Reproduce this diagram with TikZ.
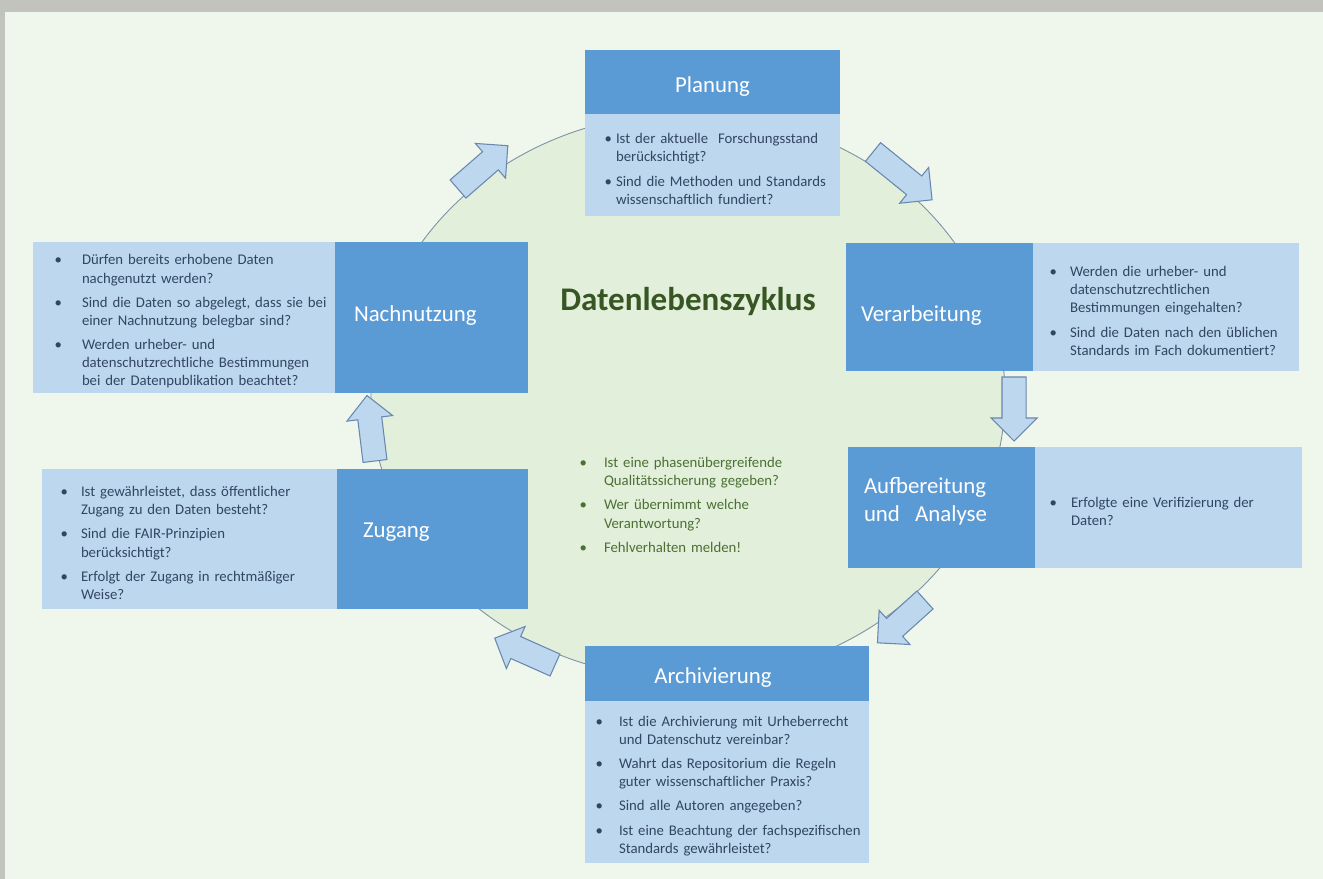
\documentclass[tikz,border=0pt]{standalone}
\usepackage{fontspec}
\setmainfont{Carlito}
\usetikzlibrary{shapes.geometric, shapes.arrows, positioning}
\definecolor{frame_gray}{RGB}{195,195,190}
\definecolor{page_green}{RGB}{239,246,236}
\definecolor{cycle_green}{RGB}{226,239,218}
\definecolor{cycle_line}{RGB}{125,145,165}
\definecolor{head_blue}{RGB}{91,155,213}
\definecolor{box_blue}{RGB}{189,215,238}
\definecolor{arrow_line}{RGB}{105,135,175}
\definecolor{text_blue}{RGB}{50,70,98}
\definecolor{title_green}{RGB}{55,86,35}
\definecolor{note_green}{RGB}{75,112,52}

\newlength\pix
\setlength\pix{0.02cm}
% bullet list: text indent, gap bullet-text (in px)
\newenvironment{punkte}[2]{\begin{list}{\textbullet}{%
  \setlength\leftmargin{#1\pix}\setlength\labelsep{#2\pix}%
  \settowidth\labelwidth{\textbullet}\setlength\rightmargin{-30\pix}%
  \setlength\itemsep{3.5pt}\setlength\parsep{0pt}%
  \setlength\topsep{0pt}\setlength\partopsep{0pt}}}{\end{list}}
% shift a label up or down without changing its size
\newcommand\hebe[2]{\raisebox{#1\pix}[\height][\depth]{#2}}

\begin{document}
\begin{tikzpicture}[x=0.02cm, y=-0.02cm,
  every node/.style={inner sep=0pt, outer sep=0pt},
  head/.style={fill=head_blue, text=white, font=\fontsize{13}{16}\selectfont},
  askbox/.style={fill=box_blue, text=text_blue, font=\fontsize{8.4}{10.3}\selectfont, align=left},
  blockarrow/.style={single arrow, draw=arrow_line, line width=0.6pt, fill=box_blue,
    minimum width=45\pix, single arrow head extend=11\pix, inner ysep=11.5\pix, inner xsep=0pt, anchor=tail}]
  \fill[frame_gray] (0,0) rectangle (1323,879);
  \fill[page_green] (5,12) rectangle (1323,879);
  \useasboundingbox (0,0) rectangle (1323,879);

  \node[ellipse, draw=cycle_line, line width=0.5pt, fill=cycle_green,
    minimum width=634\pix, minimum height=566\pix] (zyklus) at (688,396) {};

  % arrows round the cycle
  \node[blockarrow, rotate=41, minimum height=66\pix] (toPlan) at (458,189) {};
  \node[blockarrow, rotate=-39, minimum height=76\pix] (toVerarb) at (873,152) {};
  \node[blockarrow, rotate=-90, minimum height=64\pix] (toAufb) at (1014,377) {};
  \node[blockarrow, rotate=-138, minimum height=64\pix] (toArchiv) at (925,600) {};
  \node[blockarrow, rotate=156, minimum height=66\pix] (toZugang) at (555,665) {};
  \node[blockarrow, rotate=97, minimum height=66\pix] (toNach) at (375,461) {};

  \node[head, anchor=north west, minimum width=255\pix, minimum height=64\pix] (planung) at (585,50) {\hebe{-5}{Planung}};
  \node[askbox, text width=255\pix, minimum height=102\pix, below=0pt of planung] (planungQ) {%
    \begin{punkte}{31}{4}
      \item Ist der aktuelle~ Forschungsstand\\ berücksichtigt?
      \item Sind die Methoden und Standards\\ wissenschaftlich fundiert?
    \end{punkte}};

  \node[head, anchor=north west, text width=157\pix, inner xsep=15\pix, minimum height=128\pix, align=left] (verarb) at (846,243) {\hebe{-9}{Verarbeitung}};
  \node[askbox, text width=266\pix, minimum height=128\pix, right=0pt of verarb] (verarbQ) {%
    \begin{punkte}{37}{13}
      \item Werden die urheber- und\\ datenschutzrechtlichen\\ Bestimmungen eingehalten?
      \item Sind die Daten nach den üblichen\\ Standards im Fach dokumentiert?
    \end{punkte}};

  \node[head, anchor=north west, text width=155\pix, inner xsep=16\pix, minimum height=121\pix, align=left] (aufb) at (848,447) {Aufbereitung\\ und~~Analyse\par\vspace*{12\pix}};
  \node[askbox, text width=267\pix, minimum height=121\pix, right=0pt of aufb] (aufbQ) {%
    \begin{punkte}{36}{14}
      \item Erfolgte eine Verifizierung der\\ Daten?
    \end{punkte}};

  \node[askbox, anchor=north west, text width=302\pix, minimum height=151\pix] (nachQ) at (33,242) {%
    \begin{punkte}{49}{20}
      \item Dürfen bereits erhobene Daten\\ nachgenutzt werden?
      \item Sind die Daten so abgelegt, dass sie bei\\ einer Nachnutzung belegbar sind?
      \item Werden urheber- und\\ datenschutzrechtliche Bestimmungen\\ bei der Datenpublikation beachtet?
    \end{punkte}};
  \node[head, text width=155\pix, inner xsep=19\pix, minimum height=151\pix, align=left, right=0pt of nachQ] (nach) {\hebe{2}{Nachnutzung}};

  \node[askbox, anchor=north west, text width=295\pix, minimum height=140\pix] (zugangQ) at (42,469) {%
    \begin{punkte}{39}{13}
      \item Ist gewährleistet, dass öffentlicher\\ Zugang zu den Daten besteht?
      \item Sind die FAIR-Prinzipien\\ berücksichtigt?
      \item Erfolgt der Zugang in rechtmäßiger\\ Weise?
    \end{punkte}};
  \node[head, text width=139\pix, inner xsep=26\pix, minimum height=140\pix, align=left, right=0pt of zugangQ] (zugang) {\hebe{7}{Zugang}};

  \node[head, anchor=north west, text width=284\pix, minimum height=55\pix, align=center] (archiv) at (585,646) {\hebe{-4}{Archivierung}\hspace*{28\pix}};
  \node[askbox, text width=284\pix, minimum height=162\pix, below=0pt of archiv] (archivQ) {%
    \begin{punkte}{34}{16}
      \item Ist die Archivierung mit Urheberrecht\\ und Datenschutz vereinbar?
      \item Wahrt das Repositorium die Regeln\\ guter wissenschaftlicher Praxis?
      \item Sind alle Autoren angegeben?
      \item Ist eine Beachtung der fachspezifischen\\ Standards gewährleistet?
    \end{punkte}};

  \node[font=\fontsize{18.8}{22}\selectfont\bfseries, text=title_green] (titel) at (688,302) {Datenlebenszyklus};
  \node[anchor=west, text width=260\pix, align=left, text=note_green, font=\fontsize{8.4}{10.3}\selectfont] (qs) at (575,501) {%
    \begin{punkte}{29}{17}
      \item Ist eine phasenübergreifende\\ Qualitätssicherung gegeben?
      \item Wer übernimmt welche\\ Verantwortung?
      \item Fehlverhalten melden!
    \end{punkte}};
\end{tikzpicture}
\end{document}
